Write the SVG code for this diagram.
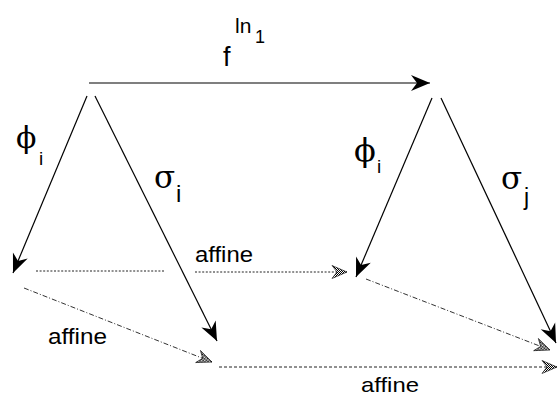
<svg xmlns="http://www.w3.org/2000/svg" width="559" height="398" viewBox="0 0 559 398">
<style>
.solid{stroke:#000;stroke-width:1.2;fill:none}
.dot{stroke:#222;stroke-width:1;fill:none;stroke-dasharray:2 1.6}
.dashdot{stroke:#333;stroke-width:1;fill:none;stroke-dasharray:5 2 1 2}
.dash{stroke:#222;stroke-width:1;fill:none;stroke-dasharray:3 2}
.sans{font-family:"Liberation Sans",Arial,sans-serif;fill:#000}
.serif{font-family:"DejaVu Serif","Liberation Serif",serif;fill:#000}
</style>
<defs>
<pattern id="chk" width="2" height="2" patternUnits="userSpaceOnUse">
<rect width="2" height="2" fill="#fff"/>
<rect width="1" height="1" fill="#000"/>
<rect x="1" y="1" width="1" height="1" fill="#000"/>
</pattern>
<marker id="sa" markerUnits="userSpaceOnUse" viewBox="-20 -10 22 20" refX="0" refY="0" markerWidth="22" markerHeight="20" orient="auto">
<path d="M0,0 L-19,-8 L-13,0 L-19,8 Z" fill="#000"/>
</marker>
<marker id="ha" markerUnits="userSpaceOnUse" viewBox="-16 -8 18 16" refX="0" refY="0" markerWidth="18" markerHeight="16" orient="auto">
<path d="M0,0 L-15,-6.5 L-10,0 L-15,6.5 Z" fill="url(#chk)" stroke="#000" stroke-width="0.6"/>
</marker>
</defs>
<g id="connectors">
<line class="solid" x1="89" y1="83" x2="430" y2="83" marker-end="url(#sa)"/>
<line class="solid" x1="87" y1="96" x2="13" y2="273" marker-end="url(#sa)"/>
<line class="solid" x1="95" y1="96" x2="217" y2="341" marker-end="url(#sa)"/>
<line class="solid" x1="432" y1="98" x2="356" y2="277" marker-end="url(#sa)"/>
<line class="solid" x1="441" y1="98" x2="556" y2="343" marker-end="url(#sa)"/>
<line class="dot" x1="36" y1="271" x2="165" y2="271"/>
<line class="dot" x1="195" y1="272" x2="347" y2="272" marker-end="url(#ha)"/>
<line class="dashdot" x1="24" y1="288" x2="212" y2="362" marker-end="url(#ha)"/>
<line class="dashdot" x1="366" y1="279" x2="550" y2="350" marker-end="url(#ha)"/>
<line class="dash" x1="219" y1="367" x2="557" y2="367" marker-end="url(#ha)"/>
</g>
<g id="label-f">
<text class="sans" x="223" y="66" font-size="27">f</text>
<text class="sans" x="235" y="33" font-size="21">ln</text>
<text class="sans" x="255" y="43" font-size="18">1</text>
</g>
<g id="label-phi-left">
<text class="serif" x="16" y="148" font-size="30">ϕ</text>
<text class="sans" x="39" y="165" font-size="19">i</text>
</g>
<g id="label-sigma-left">
<text class="serif" x="154" y="188" font-size="31">σ</text>
<text class="sans" x="176" y="202" font-size="24">i</text>
</g>
<g id="label-phi-right">
<text class="serif" x="354" y="161" font-size="32">ϕ</text>
<text class="sans" x="377" y="173" font-size="19">i</text>
</g>
<g id="label-sigma-right">
<text class="serif" x="501" y="189" font-size="31">σ</text>
<text class="sans" x="524" y="205" font-size="23">j</text>
</g>
<g id="label-affine-mid"><text class="sans" x="195" y="262" font-size="22" textLength="58" lengthAdjust="spacingAndGlyphs">affine</text></g>
<g id="label-affine-left"><text class="sans" x="48" y="344" font-size="22" textLength="59" lengthAdjust="spacingAndGlyphs">affine</text></g>
<g id="label-affine-bottom"><text class="sans" x="361" y="392" font-size="21" textLength="58" lengthAdjust="spacingAndGlyphs">affine</text></g>
</svg>
